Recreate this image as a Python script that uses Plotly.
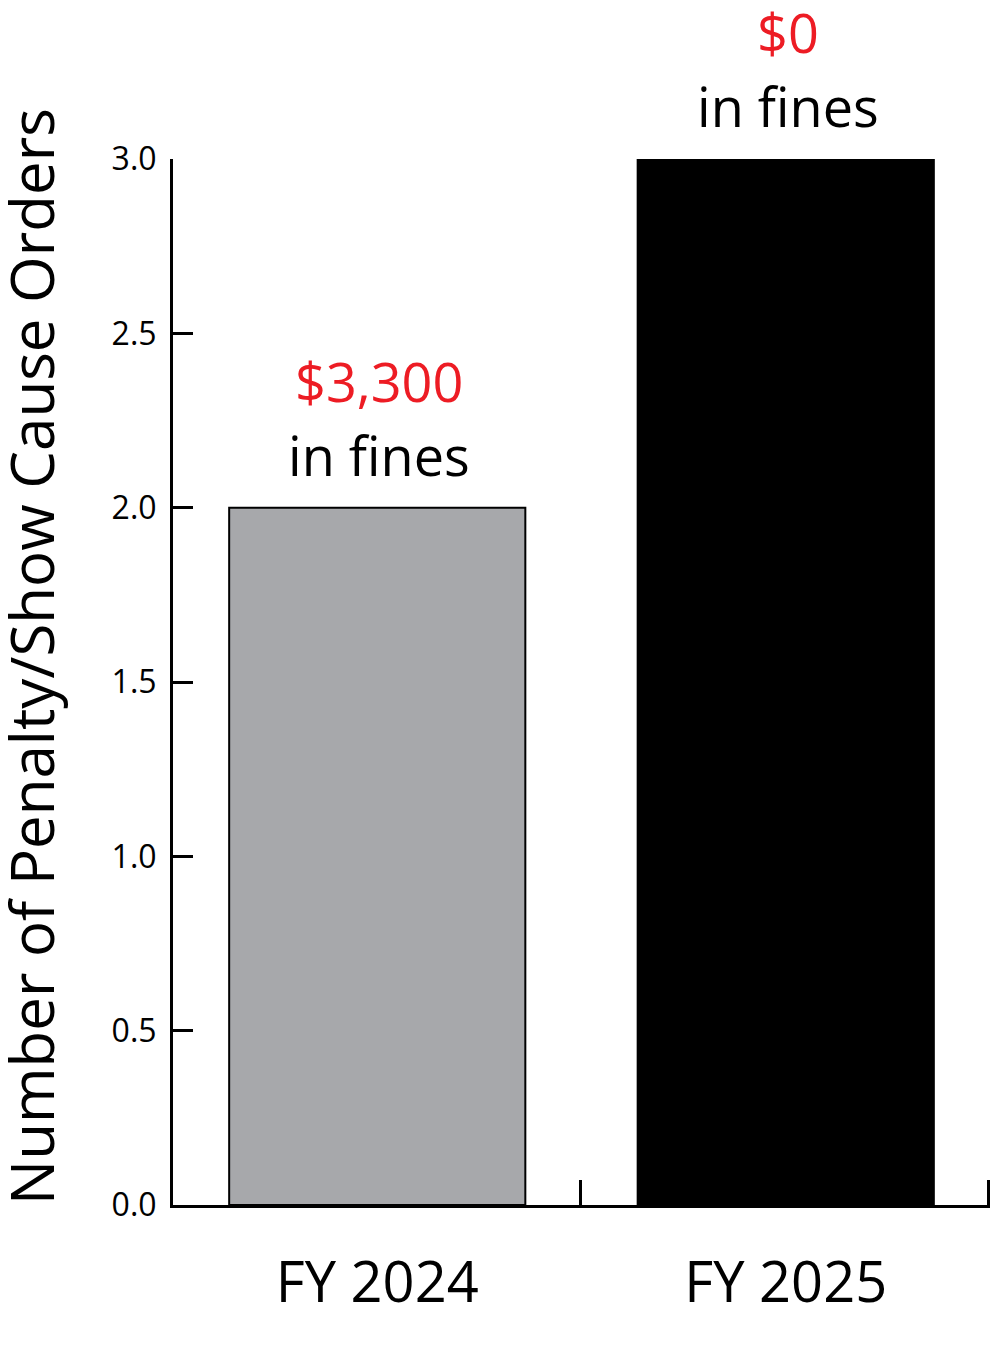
import plotly.graph_objects as go

categories = ["FY 2024", "FY 2025"]
orders = [2, 3]
fines = ["$3,300", "$0"]
fine_caption = "in fines"
bar_colors = ["#A7A8AB", "#000000"]
category_boundaries = [0.5, 1.5]
y_ticks = [0, 0.5, 1.0, 1.5, 2.0, 2.5, 3.0]
y_tick_labels = ["0.0", "0.5", "1.0", "1.5", "2.0", "2.5", "3.0"]
y_title = "Number of Penalty/Show Cause Orders"

FONT = "Open Sans"

fig = go.Figure()
fig.add_trace(go.Bar(
    x=categories,
    y=orders,
    width=0.725,
    marker=dict(color=bar_colors, line=dict(color="#000000", width=2)),
    hoverinfo="skip",
))
# invisible helper trace on the secondary x axis (for category boundary ticks)
fig.add_trace(go.Scatter(
    x=category_boundaries, y=[0, 0], xaxis="x2", mode="markers",
    marker=dict(opacity=0), hoverinfo="skip", showlegend=False,
))

for cat, val, fine in zip(categories, orders, fines):
    fig.add_annotation(
        x=cat, y=val, xref="x", yref="y",
        text=fine_caption,
        showarrow=False, yanchor="bottom", xanchor="center",
        yshift=14, xshift=2,
        font=dict(family=FONT, size=54, color="#000000"),
    )
    fig.add_annotation(
        x=cat, y=val, xref="x", yref="y",
        text=fine,
        showarrow=False, yanchor="bottom", xanchor="center",
        yshift=88, xshift=2,
        font=dict(family=FONT, size=54, color="#ED1C24"),
    )

fig.add_annotation(
    x=0, y=0.5, xref="paper", yref="paper",
    text=y_title, textangle=-90, showarrow=False,
    xanchor="center", yanchor="middle",
    xshift=-142, yshift=25,
    font=dict(family=FONT, size=60, color="#000000"),
)

fig.update_layout(
    width=990, height=1320,
    margin=dict(l=165, r=8, t=151, b=123),
    paper_bgcolor="white", plot_bgcolor="white",
    showlegend=False,
    xaxis=dict(
        type="category", range=[-0.5, 1.5],
        showline=True, linecolor="#000000", linewidth=3,
        ticks="", showgrid=False, zeroline=False,
        tickfont=dict(family=FONT, size=56, color="#000000"),
        ticklabelstandoff=27,
    ),
    xaxis2=dict(
        overlaying="x", anchor="y", side="bottom",
        range=[-0.5, 1.503],
        tickmode="array", tickvals=category_boundaries,
        showticklabels=False, showline=False, showgrid=False, zeroline=False,
        ticks="inside", ticklen=25, tickwidth=3, tickcolor="#000000",
    ),
    yaxis=dict(
        range=[0, 3],
        tickmode="array", tickvals=y_ticks, ticktext=y_tick_labels,
        showline=True, linecolor="#000000", linewidth=3,
        ticks="inside", ticklen=20, tickwidth=3, tickcolor="#000000",
        showgrid=False, zeroline=False,
        tickfont=dict(family=FONT, size=32, color="#000000"),
        ticklabelstandoff=7,
    ),
)

fig.write_html("out.html")
